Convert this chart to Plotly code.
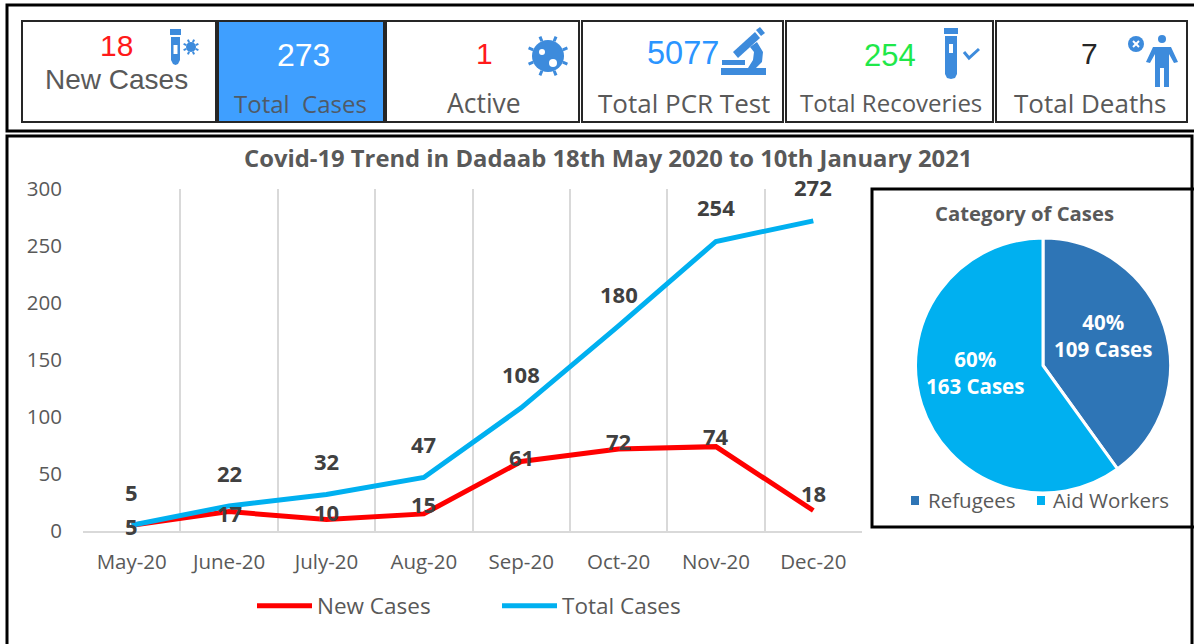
import math
import plotly.graph_objects as go

W, H = 1194, 644
months = ["May-20", "June-20", "July-20", "Aug-20", "Sep-20", "Oct-20", "Nov-20", "Dec-20"]
new_cases = [5, 17, 10, 15, 61, 72, 74, 18]
total_cases = [5, 22, 32, 47, 108, 180, 254, 272]
new_shift = [-1, -1, 8, 10, 4, 8, 11, 17]
total_shift = [33, 33, 34, 33, 34, 32, 34, 34]
pie_labels = ["Refugees", "Aid Workers"]
pie_values = [109, 163]
pie_pcts = [40, 60]
pie_colors = ["#2e75b6", "#00b0f0"]
card_values = ["18", "273", "1", "5077", "254", "7"]
card_names = ["New Cases", "Total  Cases", "Active", "Total PCR Test", "Total Recoveries", "Total Deaths"]

GREY = "#595959"
SANS = "Open Sans"
ICON = "#3d8bdc"

def X(x): return x / W
def Y(y): return 1 - y / H

shapes, annots = [], []

def rect(x0, y0, x1, y1, line="black", lw=2, fill="rgba(0,0,0,0)"):
    shapes.append(dict(type="rect", xref="paper", yref="paper", x0=X(x0), x1=X(x1), y0=Y(y0), y1=Y(y1),
                       line=dict(color=line, width=lw), fillcolor=fill, layer="above"))

def fillrect(x0, y0, x1, y1, fill=ICON):
    shapes.append(dict(type="rect", xref="paper", yref="paper", x0=X(x0), x1=X(x1), y0=Y(y0), y1=Y(y1),
                       line=dict(width=0), fillcolor=fill, layer="above"))

def circ(cx, cy, r, fill=ICON):
    shapes.append(dict(type="circle", xref="paper", yref="paper", x0=X(cx-r), x1=X(cx+r), y0=Y(cy-r), y1=Y(cy+r),
                       line=dict(width=0), fillcolor=fill, layer="above"))

def poly(pts, fill=ICON):
    d = "M " + " L ".join(f"{X(a):.5f},{Y(b):.5f}" for a, b in pts) + " Z"
    shapes.append(dict(type="path", xref="paper", yref="paper", path=d, line=dict(width=0), fillcolor=fill, layer="above"))

def stroke(pts, color=ICON, lw=2):
    d = "M " + " L ".join(f"{X(a):.5f},{Y(b):.5f}" for a, b in pts)
    shapes.append(dict(type="path", xref="paper", yref="paper", path=d, line=dict(color=color, width=lw), layer="above"))

def txt(x, y, s, size, color=GREY, font=SANS, bold=False, anchor="center"):
    annots.append(dict(xref="paper", yref="paper", x=X(x), y=Y(y), text=f"<b>{s}</b>" if bold else s, showarrow=False,
                       xanchor=anchor, yanchor="middle", font=dict(family=font, size=size, color=color)))

def virus(cx, cy, r, spike, lw=2):
    n = 8
    for i in range(n):
        a = i * 2 * math.pi / n + math.pi / 8
        stroke([(cx + r*math.cos(a), cy + r*math.sin(a)), (cx + (r+spike)*math.cos(a), cy + (r+spike)*math.sin(a))], lw=lw)
    circ(cx, cy, r)

def tube(x0, x1, y0, y1):
    fillrect(x0, y0, x1, y0 + 6)
    m = (x0 + x1) / 2
    poly([(x0+1, y0+8), (x1-1, y0+8), (x1-1, y1-5), (x1-3, y1-1), (m, y1), (x0+3, y1-1), (x0+1, y1-5)])
    fillrect(m-2, y0+16, m+2, y0+25, "white")

# frames
rect(7, 5, 1197, 131, lw=3)
rect(7, 136, 1192, 660, lw=3)
card_x = [(22, 216), (218, 384), (386, 579), (582, 783), (786, 993), (996, 1187)]
fillrect(218, 21, 384, 122, "#3f9fff")
for a, b in card_x:
    rect(a, 21, b, 122, line="#262626", lw=2)
rect(872, 189, 1197, 527, lw=3)

# card text
num_pos = [(116, 46, "#ff1a1a", 30), (303, 55, "white", 32), (484, 53, "#ff1a1a", 30), (683, 53, "#2b95ff", 32.5), (890, 56, "#1fe84a", 31), (1089, 53, "#262626", 30)]
name_pos = [(116, 79, 28), (300, 103, 24), (484, 103, 26.5), (684, 103, 26), (891, 102, 24), (1090, 103, 26)]
for i in range(6):
    x, y, c, s = num_pos[i]
    txt(x, y, card_values[i], s, c, "Liberation Sans")
    nx, ny, ns = name_pos[i]
    if i == 0:
        txt(nx, ny, card_names[i], ns, GREY, "Liberation Sans")
    else:
        txt(nx, ny, card_names[i], ns, GREY if i != 1 else "#505a66")

# icons
tube(170, 181, 29, 65)
virus(191, 47, 5, 3)
virus(548, 56, 16, 5, 3)
circ(542, 52, 3, "white"); circ(553, 63, 4, "white")
# microscope
fillrect(721, 68, 766, 75)
fillrect(722, 60, 745, 65)
poly([(733, 52), (755, 32), (760, 38), (738, 58)])
poly([(756, 30), (760, 27), (765, 33), (761, 36)])
poly([(750, 47), (757, 42), (763, 52), (762, 62), (756, 68), (748, 68), (753, 60), (754, 52)])
# recoveries
tube(944, 958, 28, 79)
stroke([(964, 52), (969, 58), (979, 49)], lw=3)
# deaths
circ(1136, 44, 8)
stroke([(1133, 41), (1139, 47)], "white", 2)
stroke([(1139, 41), (1133, 47)], "white", 2)
circ(1162, 39, 4)
poly([(1153, 47), (1171, 47), (1178, 62), (1174, 63), (1169, 54), (1169, 87), (1164, 87), (1164, 68), (1160, 68), (1160, 87), (1155, 87), (1155, 54), (1150, 63), (1146, 62)])

# chart text
txt(608, 158, "Covid-19 Trend in Dadaab 18th May 2020 to 10th January 2021", 23.8, GREY, SANS, True)
txt(1024, 213, "Category of Cases", 20.3, GREY, SANS, True)

label_font = dict(family=SANS, size=22, color="#404040")
for i, m in enumerate(months):
    annots.append(dict(xref="x", yref="y", x=m, y=new_cases[i], text=f"<b>{new_cases[i]}</b>", showarrow=False,
                       yshift=new_shift[i], font=label_font))
    annots.append(dict(xref="x", yref="y", x=m, y=total_cases[i], text=f"<b>{total_cases[i]}</b>", showarrow=False,
                       yshift=total_shift[i], font=label_font))

pie_text_pos = [(1103, 335), (975, 373)]
for i in range(2):
    x, y = pie_text_pos[i]
    txt(x, y, f"<b>{pie_pcts[i]}%<br>{pie_values[i]} Cases</b>", 20.5, "white", SANS)

# pie key
key_pos = [(911, 926), (1037, 1051)]
for i in range(2):
    kx, tx = key_pos[i]
    fillrect(kx, 496, kx + 8, 505, pie_colors[i])
    txt(tx, 500, pie_labels[i], 20.5, GREY, SANS, anchor="left")

fig = go.Figure()
fig.add_trace(go.Scatter(x=months, y=new_cases, mode="lines", name="New Cases", line=dict(color="#ff0000", width=5)))
fig.add_trace(go.Scatter(x=months, y=total_cases, mode="lines", name="Total Cases", line=dict(color="#00b0f0", width=5)))
fig.add_trace(go.Pie(labels=pie_labels, values=pie_values, sort=False, direction="clockwise", rotation=0,
                     marker=dict(colors=pie_colors, line=dict(color="white", width=3)),
                     textinfo="none", hoverinfo="label+value", showlegend=False,
                     domain=dict(x=[X(915.5), X(1170.5)], y=[Y(493.5), Y(237.5)])))

fig.update_layout(
    width=W, height=H, margin=dict(l=0, r=0, t=0, b=0, autoexpand=False), paper_bgcolor="white", plot_bgcolor="white",
    shapes=shapes, annotations=annots,
    xaxis=dict(domain=[X(83), X(862)], type="category", categoryorder="array", categoryarray=months, range=[-0.5, 7.5],
               tickson="boundaries", showgrid=True, gridcolor="#d9d9d9", gridwidth=2, showline=True, linecolor="#d9d9d9", linewidth=2,
               ticks="", ticklabelstandoff=11, tickfont=dict(family=SANS, size=20.5, color=GREY), zeroline=False),
    yaxis=dict(domain=[Y(531), Y(189)], range=[0, 300], dtick=50, showgrid=False, zeroline=False, showline=False,
               ticks="outside", ticklen=16, tickcolor="rgba(0,0,0,0)", tickfont=dict(family=SANS, size=20.5, color=GREY)),
    legend=dict(orientation="h", x=X(252), y=Y(606), xanchor="left", yanchor="middle", itemwidth=55,
                entrywidth=175, entrywidthmode="pixels", font=dict(family=SANS, size=22.5, color=GREY), bgcolor="rgba(0,0,0,0)"),
)
fig.write_html("out.html", config={"displayModeBar": False},
               post_script="document.body.style.margin='0';document.body.style.overflow='hidden';")
